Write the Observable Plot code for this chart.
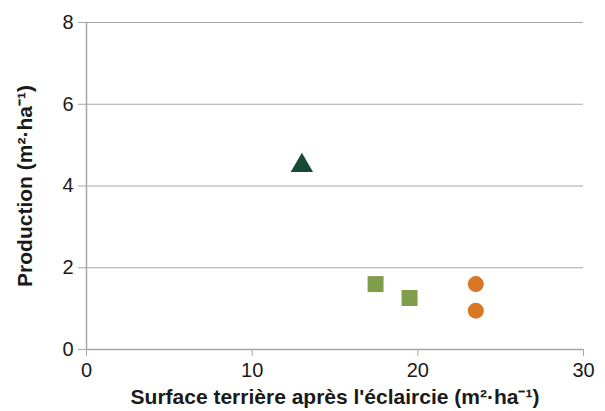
<!DOCTYPE html>
<html>
<head>
<meta charset="utf-8">
<script src="https://cdn.jsdelivr.net/npm/d3@7"></script>
<script src="https://cdn.jsdelivr.net/npm/@observablehq/plot@0.6"></script>
<style>
  body { margin: 0; background: #fff; }
  #chart svg text { font-size: 20px !important; }
  #chart svg [aria-label="x-axis label"] text,
  #chart svg [aria-label="y-axis label"] text { font-weight: bold; font-size: 21px !important; }
</style>
</head>
<body>
<div id="chart"></div>
<script>
// Basal area after thinning (m²·ha⁻¹) vs. production (m²·ha⁻¹), three groups
const triangleX = [13.0];
const triangleY = [4.5];
const squareX = [17.45, 19.5];
const squareY = [1.6, 1.26];
const circleX = [23.5, 23.5];
const circleY = [1.6, 0.95];

const xTicks = [0, 10, 20, 30];
const yTicks = [0, 2, 4, 6, 8];
const gridValues = [2, 4, 6, 8];

const xLabel = "Surface terrière après l'éclaircie (m²·ha⁻¹)";
const yLabel = "Production (m²·ha⁻¹)";

const toRows = (xs, ys) => xs.map((x, i) => ({x, y: ys[i]}));

const gridColor = "#a6a6a6";

const chart = Plot.plot({
  width: 605,
  height: 411,
  marginLeft: 86,
  marginRight: 22,
  marginTop: 22,
  marginBottom: 62,
  x: {domain: [0, 30]},
  y: {domain: [0, 8]},
  style: {fontFamily: "'Liberation Sans', Arial, sans-serif", fontSize: "20px", color: "#1a1a1a", background: "#fff"},
  marks: [
    Plot.gridY(gridValues, {stroke: gridColor, strokeOpacity: 1, strokeWidth: 1}),
    Plot.ruleY([0], {stroke: gridColor, strokeWidth: 1.5}),
    Plot.ruleX([0], {stroke: gridColor, strokeWidth: 1.5}),
    Plot.axisX({
      ticks: xTicks, tickSize: 7, tickPadding: 6, stroke: gridColor, strokeOpacity: 1,
      fontSize: 20, label: xLabel, labelAnchor: "center", labelArrow: "none", labelOffset: 54
    }),
    Plot.axisY({
      ticks: yTicks, tickSize: 8, tickPadding: 5, stroke: gridColor, strokeOpacity: 1,
      fontSize: 20, label: yLabel, labelAnchor: "center", labelArrow: "none", labelOffset: 69
    }),
    Plot.dot(toRows(triangleX, triangleY), {x: "x", y: "y", symbol: "triangle", r: 8.3, fill: "#174a35", stroke: "none"}),
    Plot.dot(toRows(squareX, squareY), {x: "x", y: "y", symbol: "square", r: 9, fill: "#7f9d4b", stroke: "none"}),
    Plot.dot(toRows(circleX, circleY), {x: "x", y: "y", symbol: "circle", r: 8, fill: "#d97726", stroke: "none"})
  ]
});

document.getElementById("chart").appendChild(chart);
</script>
</body>
</html>
